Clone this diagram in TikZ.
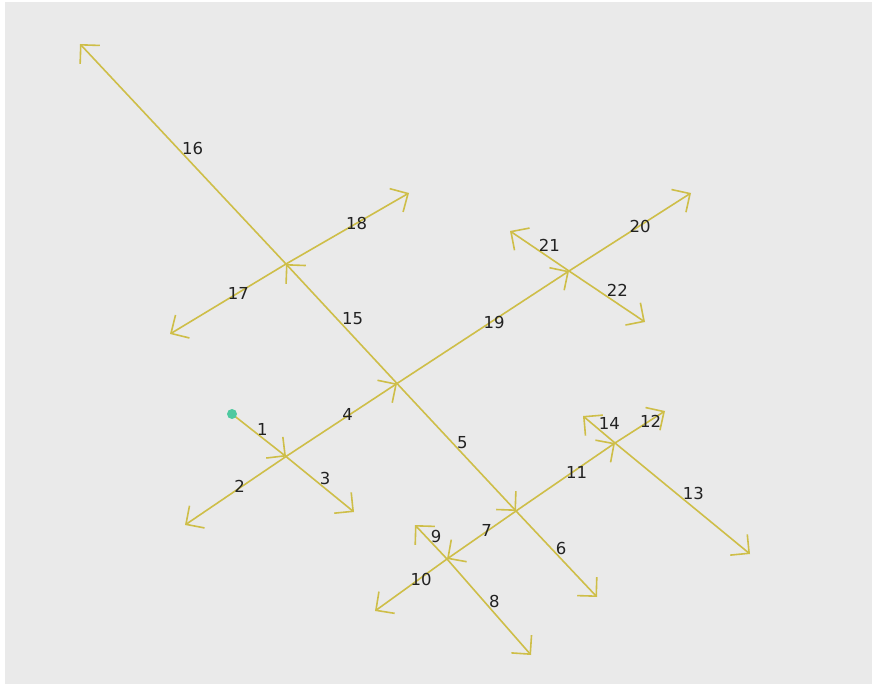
\documentclass[tikz,border=0pt]{standalone}
\usepackage{fontspec}
\setmainfont{DejaVu Sans}
\usetikzlibrary{arrows.meta}
\definecolor{edgecol}{RGB}{206,190,72}
\definecolor{bgcol}{RGB}{234,234,234}
\definecolor{dotcol}{RGB}{78,201,160}
\definecolor{txtcol}{RGB}{34,34,34}
\tikzset{
  edge/.style={draw=edgecol, line width=1.6pt, -{Straight Barb[angle=90:19pt, line width=1.6pt]}},
  lab/.style={text=txtcol, inner sep=0pt, font=\fontsize{16.5}{18}\selectfont},
}
\begin{document}
\begin{tikzpicture}[x=1pt,y=-1pt]
\useasboundingbox (0,0) rectangle (872,684);
\fill[white] (0,0) rectangle (872,684);
\fill[bgcol] (4.5,2) rectangle (872,684);
% junctions
\coordinate (A) at (232,414);
\coordinate (B) at (286,456.5);
\coordinate (C) at (397,383.5);
\coordinate (D) at (516,511);
\coordinate (E) at (286,264);
\coordinate (F) at (569,271);
\coordinate (G) at (447,559);
\coordinate (H) at (615,443);
% free ends
\coordinate (b2) at (185,525);
\coordinate (b3) at (354,512);
\coordinate (e16) at (80,44);
\coordinate (e17) at (170,334);
\coordinate (e18) at (409,193);
\coordinate (f20) at (691,193);
\coordinate (f21) at (510,231);
\coordinate (f22) at (645,322);
\coordinate (d6) at (597,597);
\coordinate (g8) at (531,655);
\coordinate (g9) at (415,525);
\coordinate (g10) at (375,611);
\coordinate (h12) at (665,411);
\coordinate (h13) at (750,554);
\coordinate (h14) at (583,416);
% edges
\draw[edge] (A) -- (B);
\draw[edge] (B) -- (b2);
\draw[edge] (B) -- (b3);
\draw[edge] (B) -- (C);
\draw[edge] (C) -- (D);
\draw[edge] (C) -- (E);
\draw[edge] (C) -- (F);
\draw[edge] (E) -- (e16);
\draw[edge] (E) -- (e17);
\draw[edge] (E) -- (e18);
\draw[edge] (F) -- (f20);
\draw[edge] (F) -- (f21);
\draw[edge] (F) -- (f22);
\draw[edge] (D) -- (d6);
\draw[edge] (D) -- (G);
\draw[edge] (D) -- (H);
\draw[edge] (G) -- (g8);
\draw[edge] (G) -- (g9);
\draw[edge] (G) -- (g10);
\draw[edge] (H) -- (h12);
\draw[edge] (H) -- (h13);
\draw[edge] (H) -- (h14);
% start dot
\fill[dotcol] (A) circle[radius=5];
% labels
\node[lab] (l1) at (262.3,429.3) {1};
\node[lab] (l2) at (239.5,486) {2};
\node[lab] (l3) at (325,478.7) {3};
\node[lab] (l4) at (347.7,414.3) {4};
\node[lab] (l5) at (462.3,442.7) {5};
\node[lab] (l6) at (561,548) {6};
\node[lab] (l7) at (486.7,530.7) {7};
\node[lab] (l8) at (494.3,601.7) {8};
\node[lab] (l9) at (436,536) {9};
\node[lab] (l10) at (421,579) {10};
\node[lab] (l11) at (576.5,472) {11};
\node[lab] (l12) at (650.7,421) {12};
\node[lab] (l13) at (693.3,493.3) {13};
\node[lab] (l14) at (609.3,423.5) {14};
\node[lab] (l15) at (352.7,318.3) {15};
\node[lab] (l16) at (192.7,148.3) {16};
\node[lab] (l17) at (238.3,293.3) {17};
\node[lab] (l18) at (356.7,223.3) {18};
\node[lab] (l19) at (494,322.7) {19};
\node[lab] (l20) at (640,226) {20};
\node[lab] (l21) at (549.3,245) {21};
\node[lab] (l22) at (617.3,290) {22};
\end{tikzpicture}
\end{document}
